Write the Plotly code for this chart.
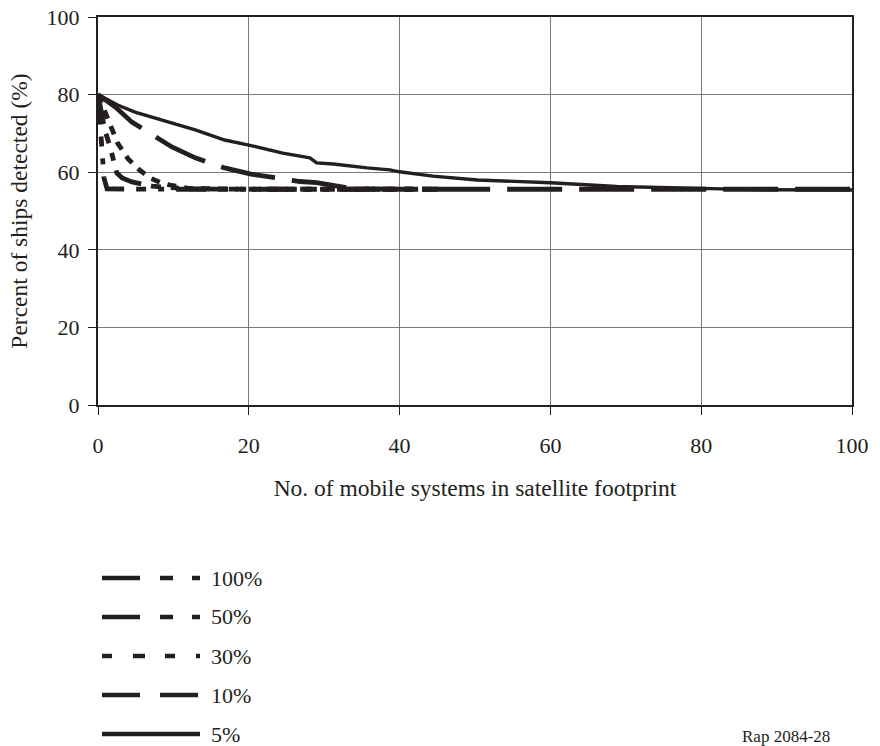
import plotly.graph_objects as go

# Detection probability vs. number of mobile systems, for each duty-cycle level
x_100 = [0, 0.2, 0.4, 0.6, 0.8, 1.2, 5, 10, 20, 30, 45]
y_100 = [80, 75, 68, 62, 58.5, 55.7, 55.6, 55.6, 55.6, 55.6, 55.6]

x_50 = [0, 0.3, 0.9, 1.6, 2.5, 3.2, 4.5, 7.2, 9.8, 12, 20, 30, 45]
y_50 = [80, 77, 70.9, 66.5, 59.8, 58.5, 57.5, 56.4, 56.0, 55.7, 55.6, 55.6, 55.6]

x_30 = [0, 0.9, 1.9, 2.6, 4.0, 5.5, 6.9, 8.2, 9.5, 12.2, 20, 30, 45]
y_30 = [80, 75.5, 70.5, 67.5, 63.4, 60.6, 58.5, 57.4, 56.7, 55.8, 55.6, 55.6, 55.6]

x_10 = [0, 2.3, 4.5, 7.2, 9.8, 12.9, 16.8, 20.3, 22.8, 24.8, 26.8, 29.0, 32.1, 34, 40, 60, 80, 100]
y_10 = [80, 76.8, 72.9, 69.6, 66.5, 63.7, 61.1, 59.5, 58.8, 58.0, 57.6, 57.3, 56.3, 55.7, 55.6, 55.6, 55.6, 55.6]

x_5 = [0, 2.6, 4.9, 9.3, 12.9, 16.8, 20.0, 24.5, 28.1, 29.0, 31.2, 35.7, 38.7, 40.0, 44.4, 50.3, 55.0, 60.0, 68.8, 78, 87, 100]
y_5 = [80, 77.3, 75.5, 72.9, 70.9, 68.3, 67.0, 64.9, 63.7, 62.4, 62.1, 61.1, 60.6, 60.1, 59.0, 58.0, 57.6, 57.3, 56.3, 55.9, 55.5, 55.4]

series_names = ["100%", "50%", "30%", "10%", "5%"]
series_x = [x_100, x_50, x_30, x_10, x_5]
series_y = [y_100, y_50, y_30, y_10, y_5]

x_ticks = [0, 20, 40, 60, 80, 100]
y_ticks = [0, 20, 40, 60, 80, 100]

INK = "#231f20"
FONT = "Times New Roman, Liberation Serif, serif"

plot_dash = {
    "100%": "30px,12px,10px,12px,6px,12px",
    "50%": "30px,10px,10px,10px,8px,10px",
    "30%": "9px,8px",
    "10%": "55px,17px",
    "5%": "solid",
}
legend_dash = {
    "100%": "38px,20px,13px,19px,8px,20px",
    "50%": "38px,20px,13px,19px,8px,20px",
    "30%": "10px,21px,12px,20px",
    "10%": "38px,20px",
    "5%": "solid",
}

fig = go.Figure()
for name, xs, ys in zip(series_names, series_x, series_y):
    fig.add_trace(go.Scatter(
        x=xs, y=ys, mode="lines", name=name, showlegend=False,
        line=dict(color=INK, width=3.4 if name == "5%" else 4.8, dash=plot_dash[name]),
    ))

# Plot area in pixels: left 98, right 852, top 17, bottom 405
L, R, T, B = 98, 852, 17, 405
W, H = 880, 746


def px(xp):
    return (xp - L) / (R - L)


def py(yp):
    return (B - yp) / (B - T)


# Legend keys drawn below the plot
rows = [578, 617, 656, 695, 734]
for name, yrow in zip(series_names, rows):
    fig.add_shape(type="line", xref="paper", yref="paper",
                  x0=px(102), x1=px(200), y0=py(yrow), y1=py(yrow),
                  line=dict(color=INK, width=4.4, dash=legend_dash[name]))
    fig.add_annotation(xref="paper", yref="paper", x=px(209), y=py(yrow),
                       text=name, showarrow=False, xanchor="left", yanchor="middle",
                       font=dict(family=FONT, size=22, color=INK))

fig.add_annotation(xref="paper", yref="paper", x=px(786), y=py(736),
                   text="Rap 2084-28", showarrow=False, xanchor="center", yanchor="middle",
                   font=dict(family=FONT, size=17, color=INK))

axis_common = dict(
    showline=True, linecolor=INK, linewidth=2, mirror=True,
    showgrid=True, gridcolor="#7a7a7a", gridwidth=1,
    ticks="outside", ticklen=8, tickcolor=INK, tickwidth=1,
    tickfont=dict(family=FONT, size=22, color=INK),
    zeroline=False, automargin=False,
)

fig.update_xaxes(range=[0, 100], tickvals=x_ticks, ticklabelstandoff=12,
                 title=dict(text="No. of mobile systems in satellite footprint",
                            font=dict(family=FONT, size=23.5, color=INK), standoff=22),
                 **axis_common)
fig.update_yaxes(range=[0, 100], tickvals=y_ticks, ticklabelstandoff=4,
                 title=dict(text="Percent of ships detected (%)",
                            font=dict(family=FONT, size=23.5, color=INK), standoff=12),
                 **axis_common)

fig.update_layout(
    width=W, height=H,
    margin=dict(l=L, r=W - R, t=T, b=H - B),
    paper_bgcolor="white", plot_bgcolor="white",
    font=dict(family=FONT, color=INK),
)

fig.write_html("out.html")
